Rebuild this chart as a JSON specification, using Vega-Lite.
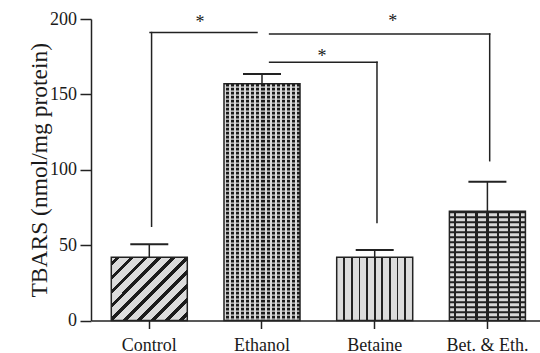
{
  "$schema": "https://vega.github.io/schema/vega-lite/v6.json",
  "width": 449,
  "height": 301.5,
  "autosize": {"type": "none"},
  "padding": {"left": 91, "top": 19, "right": 0, "bottom": 32.5},
  "background": "#ffffff",
  "datasets": {
    "bars": [
      {"group": "Control", "mean": 42, "upper": 50.5},
      {"group": "Ethanol", "mean": 157, "upper": 163.5},
      {"group": "Betaine", "mean": 42, "upper": 46.7},
      {"group": "Bet. & Eth.", "mean": 72.5, "upper": 92}
    ],
    "brackets": [
      {"from": "Control", "to": "Ethanol", "end": "Control", "level": 191, "drop": 62.5, "mark": "*"},
      {"from": "Ethanol", "to": "Betaine", "end": "Betaine", "level": 171.3, "drop": 65, "mark": "*"},
      {"from": "Ethanol", "to": "Bet. & Eth.", "end": "Bet. & Eth.", "level": 190, "drop": 106, "mark": "*"}
    ]
  },
  "config": {
    "view": {"stroke": null},
    "font": "Liberation Serif",
    "axis": {
      "grid": false,
      "domainColor": "#222222",
      "domainWidth": 1.5,
      "tickColor": "#222222",
      "tickWidth": 1.5,
      "labelFont": "Liberation Serif",
      "labelFontSize": 18,
      "labelColor": "#1a1a1a",
      "titleFont": "Liberation Serif",
      "titleFontWeight": "normal",
      "titleColor": "#1a1a1a",
      "titleFontSize": 23.5
    },
    "axisX": {"tickSize": 8, "labelPadding": 7.5, "labelAngle": 0},
    "axisY": {"tickSize": 11, "labelPadding": 3.5, "titleX": -45, "titleY": 150.75, "titleBaseline": "alphabetic", "titleAngle": -90, "titleAlign": "center"}
  },
  "layer": [
    {
      "data": {"name": "bars"},
      "transform": [{"filter": "datum.group == 'Control'"}],
      "mark": {
        "type": "bar", "stroke": "#222222", "strokeWidth": 1.5,
        "fill": {
          "gradient": "linear", "x1": 0, "y1": 0, "x2": 1.082, "y2": 0.901,
          "stops": [
            {"offset": 0, "color": "#dcdcdc"}, {"offset": 0.034, "color": "#dcdcdc"}, {"offset": 0.034, "color": "#1c1c1c"}, {"offset": 0.066, "color": "#1c1c1c"}, {"offset": 0.066, "color": "#dcdcdc"},
            {"offset": 0.134, "color": "#dcdcdc"}, {"offset": 0.134, "color": "#1c1c1c"}, {"offset": 0.166, "color": "#1c1c1c"}, {"offset": 0.166, "color": "#dcdcdc"},
            {"offset": 0.234, "color": "#dcdcdc"}, {"offset": 0.234, "color": "#1c1c1c"}, {"offset": 0.266, "color": "#1c1c1c"}, {"offset": 0.266, "color": "#dcdcdc"},
            {"offset": 0.334, "color": "#dcdcdc"}, {"offset": 0.334, "color": "#1c1c1c"}, {"offset": 0.366, "color": "#1c1c1c"}, {"offset": 0.366, "color": "#dcdcdc"},
            {"offset": 0.434, "color": "#dcdcdc"}, {"offset": 0.434, "color": "#1c1c1c"}, {"offset": 0.466, "color": "#1c1c1c"}, {"offset": 0.466, "color": "#dcdcdc"},
            {"offset": 0.534, "color": "#dcdcdc"}, {"offset": 0.534, "color": "#1c1c1c"}, {"offset": 0.566, "color": "#1c1c1c"}, {"offset": 0.566, "color": "#dcdcdc"},
            {"offset": 0.634, "color": "#dcdcdc"}, {"offset": 0.634, "color": "#1c1c1c"}, {"offset": 0.666, "color": "#1c1c1c"}, {"offset": 0.666, "color": "#dcdcdc"},
            {"offset": 0.734, "color": "#dcdcdc"}, {"offset": 0.734, "color": "#1c1c1c"}, {"offset": 0.766, "color": "#1c1c1c"}, {"offset": 0.766, "color": "#dcdcdc"},
            {"offset": 0.834, "color": "#dcdcdc"}, {"offset": 0.834, "color": "#1c1c1c"}, {"offset": 0.866, "color": "#1c1c1c"}, {"offset": 0.866, "color": "#dcdcdc"},
            {"offset": 0.934, "color": "#dcdcdc"}, {"offset": 0.934, "color": "#1c1c1c"}, {"offset": 0.966, "color": "#1c1c1c"}, {"offset": 0.966, "color": "#dcdcdc"},
            {"offset": 1, "color": "#dcdcdc"}
          ]
        }
      },
      "encoding": {
        "x": {"field": "group", "type": "nominal", "title": null,
              "scale": {"domain": ["Control", "Ethanol", "Betaine", "Bet. & Eth."], "range": [0, 454.7], "paddingInner": 0.3256, "paddingOuter": 0.18}},
        "y": {"field": "mean", "type": "quantitative", "title": "TBARS (nmol/mg protein)",
              "scale": {"domain": [0, 200], "nice": false},
              "axis": {"values": [0, 50, 100, 150, 200]}}
      }
    },
    {
      "data": {"name": "bars"},
      "transform": [{"filter": "datum.group == 'Ethanol'"}],
      "mark": {"type": "bar", "fill": "#dadada"},
      "encoding": {
        "x": {"field": "group", "type": "nominal", "title": null},
        "y": {"field": "mean", "type": "quantitative", "title": "TBARS (nmol/mg protein)"}
      }
    },
    {
      "data": {"name": "bars"},
      "transform": [{"filter": "datum.group == 'Ethanol'"}],
      "mark": {"type": "rule", "stroke": "#1a1a1a", "strokeWidth": 76, "strokeDash": [2.6, 1.4]},
      "encoding": {
        "x": {"field": "group", "type": "nominal", "title": null},
        "y": {"field": "mean", "type": "quantitative", "title": "TBARS (nmol/mg protein)"},
        "y2": {"datum": 0}
      }
    },
    {
      "data": {"name": "bars"},
      "transform": [{"filter": "datum.group == 'Ethanol'"}],
      "mark": {
        "type": "bar", "stroke": "#222222", "strokeWidth": 1.5,
        "fill": {
          "gradient": "linear", "x1": 0, "y1": 0, "x2": 1, "y2": 0,
          "stops": [
            {"offset": 0, "color": "#dadada"}, {"offset": 0.0267, "color": "#dadada"}, {"offset": 0.0267, "color": "rgba(218,218,218,0)"}, {"offset": 0.0667, "color": "rgba(218,218,218,0)"},
            {"offset": 0.0667, "color": "#dadada"}, {"offset": 0.0933, "color": "#dadada"}, {"offset": 0.0933, "color": "rgba(218,218,218,0)"}, {"offset": 0.1333, "color": "rgba(218,218,218,0)"},
            {"offset": 0.1333, "color": "#dadada"}, {"offset": 0.16, "color": "#dadada"}, {"offset": 0.16, "color": "rgba(218,218,218,0)"}, {"offset": 0.2, "color": "rgba(218,218,218,0)"},
            {"offset": 0.2, "color": "#dadada"}, {"offset": 0.2267, "color": "#dadada"}, {"offset": 0.2267, "color": "rgba(218,218,218,0)"}, {"offset": 0.2667, "color": "rgba(218,218,218,0)"},
            {"offset": 0.2667, "color": "#dadada"}, {"offset": 0.2933, "color": "#dadada"}, {"offset": 0.2933, "color": "rgba(218,218,218,0)"}, {"offset": 0.3333, "color": "rgba(218,218,218,0)"},
            {"offset": 0.3333, "color": "#dadada"}, {"offset": 0.36, "color": "#dadada"}, {"offset": 0.36, "color": "rgba(218,218,218,0)"}, {"offset": 0.4, "color": "rgba(218,218,218,0)"},
            {"offset": 0.4, "color": "#dadada"}, {"offset": 0.4267, "color": "#dadada"}, {"offset": 0.4267, "color": "rgba(218,218,218,0)"}, {"offset": 0.4667, "color": "rgba(218,218,218,0)"},
            {"offset": 0.4667, "color": "#dadada"}, {"offset": 0.4933, "color": "#dadada"}, {"offset": 0.4933, "color": "rgba(218,218,218,0)"}, {"offset": 0.5333, "color": "rgba(218,218,218,0)"},
            {"offset": 0.5333, "color": "#dadada"}, {"offset": 0.56, "color": "#dadada"}, {"offset": 0.56, "color": "rgba(218,218,218,0)"}, {"offset": 0.6, "color": "rgba(218,218,218,0)"},
            {"offset": 0.6, "color": "#dadada"}, {"offset": 0.6267, "color": "#dadada"}, {"offset": 0.6267, "color": "rgba(218,218,218,0)"}, {"offset": 0.6667, "color": "rgba(218,218,218,0)"},
            {"offset": 0.6667, "color": "#dadada"}, {"offset": 0.6933, "color": "#dadada"}, {"offset": 0.6933, "color": "rgba(218,218,218,0)"}, {"offset": 0.7333, "color": "rgba(218,218,218,0)"},
            {"offset": 0.7333, "color": "#dadada"}, {"offset": 0.76, "color": "#dadada"}, {"offset": 0.76, "color": "rgba(218,218,218,0)"}, {"offset": 0.8, "color": "rgba(218,218,218,0)"},
            {"offset": 0.8, "color": "#dadada"}, {"offset": 0.8267, "color": "#dadada"}, {"offset": 0.8267, "color": "rgba(218,218,218,0)"}, {"offset": 0.8667, "color": "rgba(218,218,218,0)"},
            {"offset": 0.8667, "color": "#dadada"}, {"offset": 0.8933, "color": "#dadada"}, {"offset": 0.8933, "color": "rgba(218,218,218,0)"}, {"offset": 0.9333, "color": "rgba(218,218,218,0)"},
            {"offset": 0.9333, "color": "#dadada"}, {"offset": 0.96, "color": "#dadada"}, {"offset": 0.96, "color": "rgba(218,218,218,0)"}, {"offset": 1, "color": "rgba(218,218,218,0)"}
          ]
        }
      },
      "encoding": {
        "x": {"field": "group", "type": "nominal", "title": null},
        "y": {"field": "mean", "type": "quantitative", "title": "TBARS (nmol/mg protein)"}
      }
    },
    {
      "data": {"name": "bars"},
      "transform": [{"filter": "datum.group == 'Betaine'"}],
      "mark": {
        "type": "bar", "stroke": "#222222", "strokeWidth": 1.5,
        "fill": {
          "gradient": "linear", "x1": 0, "y1": 0, "x2": 1, "y2": 0,
          "stops": [
            {"offset": 0, "color": "#dcdcdc"}, {"offset": 0.089, "color": "#dcdcdc"}, {"offset": 0.089, "color": "#222222"}, {"offset": 0.111, "color": "#222222"}, {"offset": 0.111, "color": "#dcdcdc"},
            {"offset": 0.189, "color": "#dcdcdc"}, {"offset": 0.189, "color": "#222222"}, {"offset": 0.211, "color": "#222222"}, {"offset": 0.211, "color": "#dcdcdc"},
            {"offset": 0.289, "color": "#dcdcdc"}, {"offset": 0.289, "color": "#222222"}, {"offset": 0.311, "color": "#222222"}, {"offset": 0.311, "color": "#dcdcdc"},
            {"offset": 0.389, "color": "#dcdcdc"}, {"offset": 0.389, "color": "#222222"}, {"offset": 0.411, "color": "#222222"}, {"offset": 0.411, "color": "#dcdcdc"},
            {"offset": 0.489, "color": "#dcdcdc"}, {"offset": 0.489, "color": "#222222"}, {"offset": 0.511, "color": "#222222"}, {"offset": 0.511, "color": "#dcdcdc"},
            {"offset": 0.589, "color": "#dcdcdc"}, {"offset": 0.589, "color": "#222222"}, {"offset": 0.611, "color": "#222222"}, {"offset": 0.611, "color": "#dcdcdc"},
            {"offset": 0.689, "color": "#dcdcdc"}, {"offset": 0.689, "color": "#222222"}, {"offset": 0.711, "color": "#222222"}, {"offset": 0.711, "color": "#dcdcdc"},
            {"offset": 0.789, "color": "#dcdcdc"}, {"offset": 0.789, "color": "#222222"}, {"offset": 0.811, "color": "#222222"}, {"offset": 0.811, "color": "#dcdcdc"},
            {"offset": 0.889, "color": "#dcdcdc"}, {"offset": 0.889, "color": "#222222"}, {"offset": 0.911, "color": "#222222"}, {"offset": 0.911, "color": "#dcdcdc"},
            {"offset": 1, "color": "#dcdcdc"}
          ]
        }
      },
      "encoding": {
        "x": {"field": "group", "type": "nominal", "title": null},
        "y": {"field": "mean", "type": "quantitative", "title": "TBARS (nmol/mg protein)"}
      }
    },
    {
      "data": {"name": "bars"},
      "transform": [{"filter": "datum.group == 'Bet. & Eth.'"}],
      "mark": {"type": "bar", "fill": "#d8d8d8"},
      "encoding": {
        "x": {"field": "group", "type": "nominal", "title": null},
        "y": {"field": "mean", "type": "quantitative", "title": "TBARS (nmol/mg protein)"}
      }
    },
    {
      "data": {"name": "bars"},
      "transform": [{"filter": "datum.group == 'Bet. & Eth.'"}],
      "mark": {"type": "rule", "stroke": "#222222", "strokeWidth": 76, "strokeDash": [2.1, 2.9]},
      "encoding": {
        "x": {"field": "group", "type": "nominal", "title": null},
        "y": {"field": "mean", "type": "quantitative", "title": "TBARS (nmol/mg protein)"},
        "y2": {"datum": 0}
      }
    },
    {
      "data": {"name": "bars"},
      "transform": [{"filter": "datum.group == 'Bet. & Eth.'"}],
      "mark": {
        "type": "bar", "stroke": "#222222", "strokeWidth": 1.5,
        "fill": {
          "gradient": "linear", "x1": 0, "y1": 0, "x2": 1, "y2": 0,
          "stops": [
            {"offset": 0, "color": "rgba(34,34,34,0)"}, {"offset": 0.057, "color": "rgba(34,34,34,0)"}, {"offset": 0.057, "color": "#222222"}, {"offset": 0.086, "color": "#222222"}, {"offset": 0.086, "color": "rgba(34,34,34,0)"},
            {"offset": 0.2, "color": "rgba(34,34,34,0)"}, {"offset": 0.2, "color": "#222222"}, {"offset": 0.229, "color": "#222222"}, {"offset": 0.229, "color": "rgba(34,34,34,0)"},
            {"offset": 0.343, "color": "rgba(34,34,34,0)"}, {"offset": 0.343, "color": "#222222"}, {"offset": 0.372, "color": "#222222"}, {"offset": 0.372, "color": "rgba(34,34,34,0)"},
            {"offset": 0.4855, "color": "rgba(34,34,34,0)"}, {"offset": 0.4855, "color": "#222222"}, {"offset": 0.5145, "color": "#222222"}, {"offset": 0.5145, "color": "rgba(34,34,34,0)"},
            {"offset": 0.628, "color": "rgba(34,34,34,0)"}, {"offset": 0.628, "color": "#222222"}, {"offset": 0.657, "color": "#222222"}, {"offset": 0.657, "color": "rgba(34,34,34,0)"},
            {"offset": 0.771, "color": "rgba(34,34,34,0)"}, {"offset": 0.771, "color": "#222222"}, {"offset": 0.8, "color": "#222222"}, {"offset": 0.8, "color": "rgba(34,34,34,0)"},
            {"offset": 0.914, "color": "rgba(34,34,34,0)"}, {"offset": 0.914, "color": "#222222"}, {"offset": 0.943, "color": "#222222"}, {"offset": 0.943, "color": "rgba(34,34,34,0)"},
            {"offset": 1, "color": "rgba(34,34,34,0)"}
          ]
        }
      },
      "encoding": {
        "x": {"field": "group", "type": "nominal", "title": null},
        "y": {"field": "mean", "type": "quantitative", "title": "TBARS (nmol/mg protein)"}
      }
    },
    {
      "data": {"name": "bars"},
      "mark": {"type": "rule", "stroke": "#222222", "strokeWidth": 1.5},
      "encoding": {
        "x": {"field": "group", "type": "nominal", "title": null},
        "y": {"field": "mean", "type": "quantitative", "title": "TBARS (nmol/mg protein)"},
        "y2": {"field": "upper"}
      }
    },
    {
      "data": {"name": "bars"},
      "mark": {"type": "tick", "color": "#222222", "opacity": 1, "thickness": 2, "size": 38, "orient": "horizontal"},
      "encoding": {
        "x": {"field": "group", "type": "nominal", "title": null},
        "y": {"field": "upper", "type": "quantitative", "title": "TBARS (nmol/mg protein)"}
      }
    },
    {
      "data": {"name": "brackets"},
      "mark": {"type": "rule", "stroke": "#222222", "strokeWidth": 1.5, "strokeCap": "square"},
      "encoding": {
        "x": {"field": "end", "type": "nominal", "title": null, "bandPosition": 0.53},
        "y": {"field": "level", "type": "quantitative", "title": "TBARS (nmol/mg protein)"},
        "y2": {"field": "drop"}
      }
    },
    {
      "data": {"name": "brackets"},
      "transform": [{"filter": "datum.from == 'Control'"}],
      "mark": {"type": "rule", "stroke": "#222222", "strokeWidth": 1.5, "strokeCap": "square"},
      "encoding": {
        "x": {"field": "from", "type": "nominal", "title": null, "bandPosition": 0.51},
        "x2": {"field": "to", "bandPosition": 0.434},
        "y": {"field": "level", "type": "quantitative", "title": "TBARS (nmol/mg protein)"}
      }
    },
    {
      "data": {"name": "brackets"},
      "transform": [{"filter": "datum.from == 'Ethanol'"}],
      "mark": {"type": "rule", "stroke": "#222222", "strokeWidth": 1.5, "strokeCap": "square"},
      "encoding": {
        "x": {"field": "from", "type": "nominal", "title": null, "bandPosition": 0.6},
        "x2": {"field": "to", "bandPosition": 0.53},
        "y": {"field": "level", "type": "quantitative", "title": "TBARS (nmol/mg protein)"}
      }
    },
    {
      "data": {"name": "brackets"},
      "transform": [{"filter": "datum.to == 'Ethanol'"}],
      "mark": {"type": "text", "font": "Liberation Serif", "fontSize": 18, "color": "#1a1a1a", "baseline": "alphabetic", "align": "center", "dx": 50.7, "dy": -5},
      "encoding": {
        "x": {"field": "from", "type": "nominal", "title": null},
        "y": {"field": "level", "type": "quantitative", "title": "TBARS (nmol/mg protein)"},
        "text": {"field": "mark"}
      }
    },
    {
      "data": {"name": "brackets"},
      "transform": [{"filter": "datum.to == 'Betaine'"}],
      "mark": {"type": "text", "font": "Liberation Serif", "fontSize": 18, "color": "#1a1a1a", "baseline": "alphabetic", "align": "center", "dx": 60, "dy": 0},
      "encoding": {
        "x": {"field": "from", "type": "nominal", "title": null},
        "y": {"field": "level", "type": "quantitative", "title": "TBARS (nmol/mg protein)"},
        "text": {"field": "mark"}
      }
    },
    {
      "data": {"name": "brackets"},
      "transform": [{"filter": "datum.to == 'Bet. & Eth.'"}],
      "mark": {"type": "text", "font": "Liberation Serif", "fontSize": 18, "color": "#1a1a1a", "baseline": "alphabetic", "align": "center", "dx": 130.7, "dy": -6.6},
      "encoding": {
        "x": {"field": "from", "type": "nominal", "title": null},
        "y": {"field": "level", "type": "quantitative", "title": "TBARS (nmol/mg protein)"},
        "text": {"field": "mark"}
      }
    }
  ]
}
